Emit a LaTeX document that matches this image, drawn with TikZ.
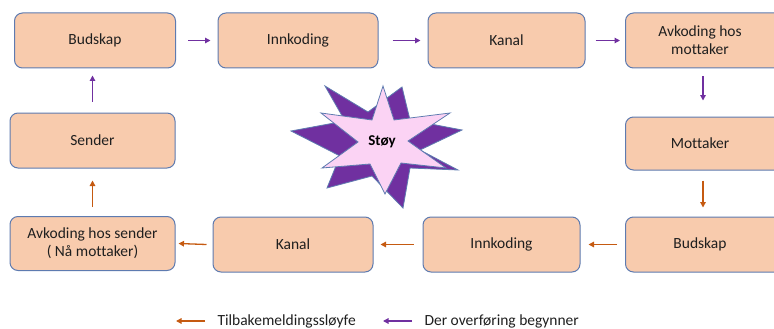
\documentclass[tikz,border=0pt]{standalone}
\usepackage{fontspec}
\setmainfont{Carlito}[Ligatures=NoCommon]
\usetikzlibrary{arrows.meta}
\definecolor{peach}{HTML}{F8CBAD}
\definecolor{boxline}{HTML}{5E7BB0}
\definecolor{fbk}{HTML}{C55A11}
\definecolor{fwd}{HTML}{7030A0}
\definecolor{starpink}{HTML}{FBD3F4}
\tikzset{
  stage/.style={draw=boxline, line width=1pt, fill=peach, rounded corners=8pt,
    minimum height=#1, align=center, font=\fontsize{15.5}{18}\selectfont, text=black!88, inner sep=0pt},
  stage/.default=55pt,
  fwdarrow/.style={draw=fwd, line width=1.3pt, -{Triangle[length=5.5pt,width=5.5pt]}},
  fbkarrow/.style={draw=fbk, line width=1.3pt, -{Triangle[length=5.5pt,width=5.5pt]}},
  starline/.style={draw=boxline, line width=0.8pt, line join=miter},
  legendtext/.style={anchor=west, font=\fontsize{15.5}{18}\selectfont, text=black!88}
}
\begin{document}
\begin{tikzpicture}[x=1pt,y=-1pt]
\useasboundingbox (0,0) rectangle (774,329);
% upper row (transmission)
\node[stage, minimum width=161pt] (bud1) at (95,40.5) {Budskap};
\node[stage, minimum width=160pt] (inn1) at (298,40.5) {Innkoding};
\node[stage, minimum width=157pt] (kan1) at (506.5,40.5) {Kanal};
\node[stage, minimum width=160pt, anchor=west] (avm) at (625,40.5) {\hspace*{-11pt}Avkoding hos\\\hspace*{-11pt}mottaker};
% right column
\node[stage, minimum width=160pt, minimum height=53pt, anchor=west] (mot) at (625,143.5) {\hspace*{-11pt}Mottaker};
\node[stage, minimum width=160pt, anchor=west] (bud2) at (625,244.5) {\hspace*{-11pt}Budskap};
% lower row (feedback)
\node[stage, minimum width=157pt] (inn2) at (501.5,244.5) {Innkoding};
\node[stage, minimum width=160pt] (kan2) at (293,244.5) {Kanal};
\node[stage, minimum width=165pt, minimum height=54pt] (avs) at (92.5,243.5) {Avkoding hos sender\\( Nå mottaker)};
% left column
\node[stage, minimum width=165pt] (snd) at (92.5,140.5) {Sender};
% forward arrows
\draw[fwdarrow] ([xshift=12pt]bud1.east) -- ([xshift=-7pt]inn1.west);
\draw[fwdarrow] ([xshift=14pt]inn1.east) -- ([xshift=-7pt]kan1.west);
\draw[fwdarrow] ([xshift=10pt]kan1.east) -- ([xshift=-5pt]avm.west);
\draw[fwdarrow] ([shift={(78,8)}]avm.south west) -- ([shift={(78,-16)}]mot.north west);
\draw[fwdarrow] ([yshift=11pt]snd.north) -- ([yshift=-7pt]snd.north |- bud1.south);
% feedback arrows
\draw[fbkarrow] ([shift={(78,10)}]mot.south west) -- ([shift={(78,-9)}]bud2.north west);
\draw[fbkarrow] ([xshift=-8pt]bud2.west) -- ([xshift=8pt]inn2.east);
\draw[fbkarrow] ([xshift=-9pt]inn2.west) -- ([xshift=7pt]kan2.east);
\draw[fbkarrow] ([xshift=-6pt]kan2.west) -- ([xshift=3pt]avs.east);
\draw[fbkarrow] ([yshift=9pt]avs.north) -- ([yshift=-12pt]snd.south);
% noise burst: dark star behind, light star in front
\draw[starline, fill=fwd]
  (291,131) -- (345,121) -- (325,86) -- (368,112) -- (402,87) -- (410,120)
  -- (462,130) -- (420,150) -- (458,170) -- (410,168) -- (403,208)
  -- (372,176) -- (327,188) -- (340,156) -- cycle;
\draw[starline, fill=starpink]
  (383,86) -- (394,120) -- (450,113) -- (408,141) -- (446,168) -- (401,163)
  -- (385,194) -- (370,164) -- (322,168) -- (358,142) -- (321,113) -- (372,120) -- cycle;
\node[font=\bfseries\fontsize{15}{17}\selectfont] (noise) at (382,142) {Støy};
% legend
\coordinate (lg1a) at (205,321);
\coordinate (lg1b) at (176,321);
\draw[fbkarrow] (lg1a) -- (lg1b);
\node[legendtext] (lgt1) at (214,321) {Tilbakemeldingssløyfe};
\coordinate (lg2a) at (412,321);
\coordinate (lg2b) at (383,321);
\draw[fwdarrow] (lg2a) -- (lg2b);
\node[legendtext] (lgt2) at (421,321) {Der overføring begynner};
\end{tikzpicture}
\end{document}
